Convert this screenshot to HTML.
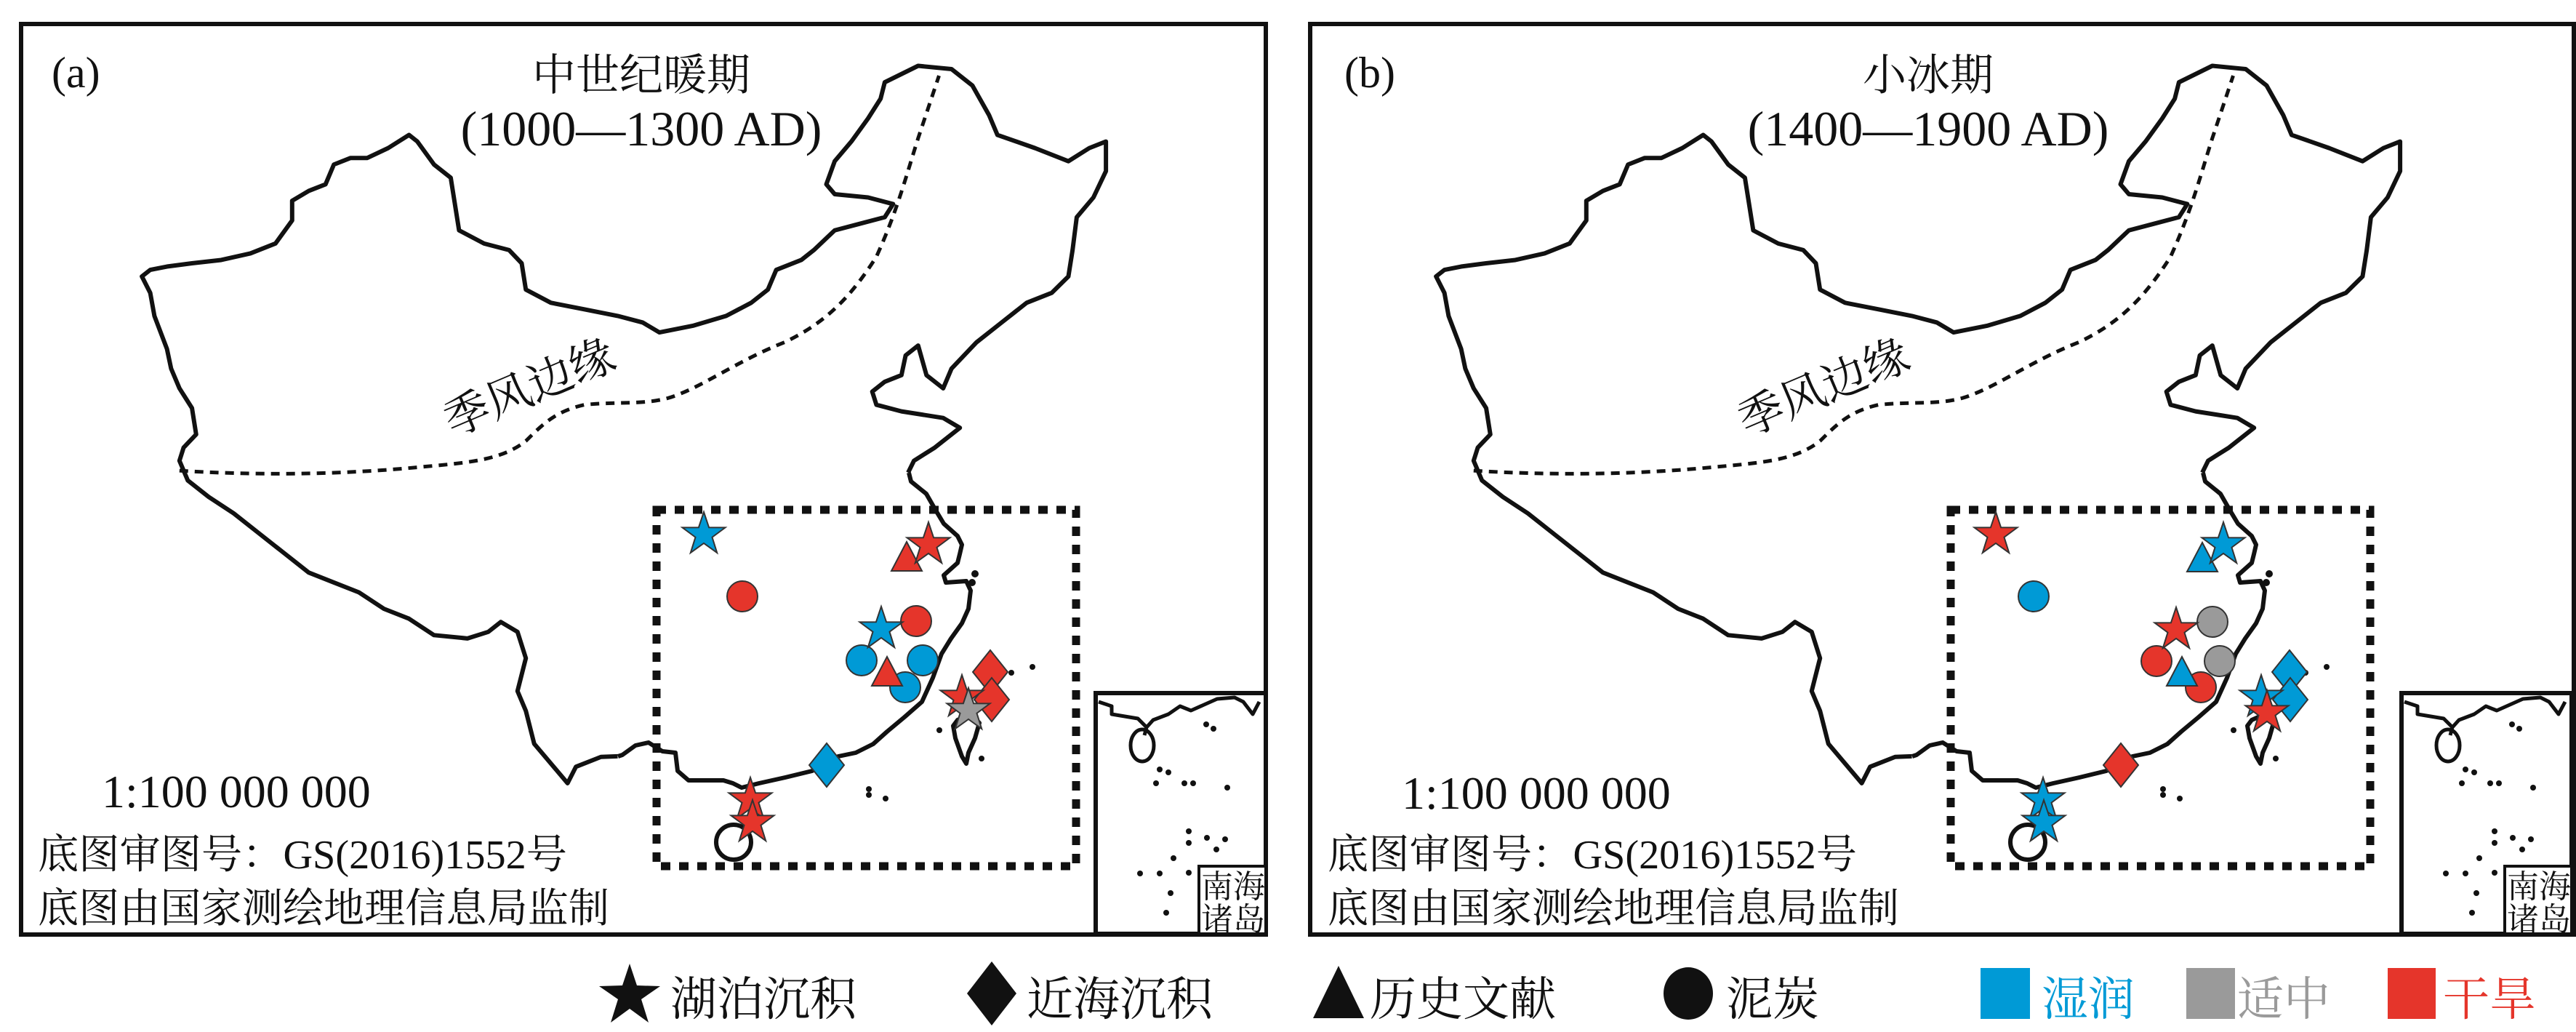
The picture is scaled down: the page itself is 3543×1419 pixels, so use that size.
<!DOCTYPE html>
<html><head><meta charset="utf-8"><style>
html,body{margin:0;padding:0;background:#fff;}
svg{display:block;}
.t{font-family:"Liberation Serif","Noto Serif CJK SC",serif;fill:#111;}
</style></head><body>
<svg width="3543" height="1419" viewBox="0 0 3543 1419" xmlns="http://www.w3.org/2000/svg">
<defs>
<g id="map">
  <path vector-effect="non-scaling-stroke" transform="scale(1.148,0.905)" fill="none" stroke="#111" stroke-width="6" stroke-linejoin="round" d="M740,1149 L720,1150 690,1165 680,1190 660,1160 640,1130 630,1080 620,1050 630,1000 620,960 600,945 585,960 560,970 520,965 490,940 460,925 430,900 400,885 370,870 340,840 310,810 280,780 250,755 225,730 215,700 220,680 235,660 230,620 215,590 205,560 200,530 185,480 180,445 170,420 180,410 200,405 230,400 265,395 300,385 330,370 350,335 350,305 370,290 390,280 400,250 420,240 440,240 465,225 490,205 500,215 520,250 540,270 545,310 550,350 580,370 610,380 625,400 630,440 660,460 700,470 740,480 770,490 790,505 830,495 870,480 900,460 920,440 930,410 960,395 975,380 1000,350 1030,340 1060,330 1070,310 1040,300 1000,295 990,280 1000,245 1020,215 1040,180 1055,150 1060,125 1100,100 1140,105 1165,130 1185,175 1195,205 1240,225 1280,245 1305,225 1325,215 1325,260 1310,300 1290,330 1285,380 1280,420 1260,445 1230,460 1200,490 1170,520 1140,560 1130,590 1110,570 1100,525 1085,540 1080,570 1060,580 1045,595 1050,615 1080,625 1105,630 1130,635 1150,650 1120,680 1095,700 1088,718"/>
  <path fill="none" stroke="#111" stroke-width="6" stroke-linejoin="round" d="M1250,650 L1253,662 1274,679 1286,700 1298,720 1317,737 1323,749 1320,762 1317,774 1298,791 1301,801 1329,799 1335,812 1332,837 1323,857 1308,878 1295,899 1283,932 1268,965 1244,986 1220,1006 1201,1023 1177,1035 1153,1040 1117,1060 1080,1069 1044,1077 1020,1083 1008,1077 995,1073 971,1073 947,1073 932,1060 929,1035 911,1033 892,1021 874,1025 856,1038 850,1040"/>
  <ellipse cx="1009" cy="1158" rx="24" ry="24" fill="none" stroke="#111" stroke-width="6"/>
  <path fill="none" stroke="#111" stroke-width="6" stroke-linejoin="round" d="M1317,990 L1335,982 1347,994 1341,1015 1332,1035 1329,1050 1323,1040 1314,1015 1311,998 Z"/>
  <g fill="#111">
    <circle cx="1341" cy="789" r="5"/><circle cx="1337" cy="801" r="5"/><circle cx="1420" cy="917" r="4"/><circle cx="1391" cy="925" r="4"/><circle cx="1292" cy="1004" r="4"/><circle cx="1350" cy="1043" r="4"/><circle cx="1195" cy="1085" r="4"/><circle cx="1195" cy="1093" r="4"/><circle cx="1218" cy="1098" r="4"/>
  </g>
  <path fill="none" stroke="#111" stroke-width="5" stroke-dasharray="12 9" transform="scale(1.148,0.905)" vector-effect="non-scaling-stroke" d="M215,715 C300,722 400,722 500,710 C560,703 600,700 630,670 C650,645 665,625 700,615 C740,610 770,615 800,605 C840,590 880,550 940,520 C990,490 1020,450 1050,390 C1075,320 1085,270 1100,210 L1125,115"/>
  <rect x="903" y="701" width="577" height="490" fill="none" stroke="#111" stroke-width="11" stroke-dasharray="13 12"/>
</g>
<g id="inset">
  <rect x="1507" y="953" width="234" height="331" fill="#fff" stroke="#111" stroke-width="6"/>
  <path fill="none" stroke="#111" stroke-width="5" stroke-linejoin="round" d="M1511,965 L1529,971 1529,982 1565,988 1577,1000 1574,1011 M1577,1000 L1586,990 1607,982 1623,971 1638,977 1656,969 1674,961 1698,959 1710,965 1723,982 1732,965"/>
  <ellipse cx="1571" cy="1025" rx="16" ry="22" fill="none" stroke="#111" stroke-width="5"/>
  <g fill="#111">
    <circle cx="1659" cy="996" r="4"/><circle cx="1669" cy="1002" r="4"/><circle cx="1595" cy="1058" r="4"/><circle cx="1607" cy="1062" r="4"/><circle cx="1590" cy="1077" r="4"/><circle cx="1629" cy="1077" r="4"/><circle cx="1641" cy="1077" r="4"/><circle cx="1688" cy="1083" r="4"/><circle cx="1635" cy="1143" r="4"/><circle cx="1635" cy="1159" r="4"/><circle cx="1660" cy="1152" r="4"/><circle cx="1685" cy="1154" r="4"/><circle cx="1673" cy="1168" r="4"/><circle cx="1614" cy="1180" r="4"/><circle cx="1568" cy="1201" r="4"/><circle cx="1595" cy="1201" r="4"/><circle cx="1635" cy="1200" r="4"/><circle cx="1610" cy="1228" r="4"/><circle cx="1604" cy="1255" r="4"/>
  </g>
  <rect x="1649" y="1191" width="92" height="93" fill="#fff" stroke="#111" stroke-width="4"/>
  <text class="t" x="1652" y="1234" font-size="44">南海</text>
  <text class="t" x="1652" y="1279" font-size="44">诸岛</text>
</g>
<polygon id="star" points="0,-31 7.1,-9.7 29.5,-9.6 11.5,3.7 18.2,25.1 0,12 -18.2,25.1 -11.5,3.7 -29.5,-9.6 -7.1,-9.7" stroke="#333" stroke-width="2"/>
<polygon id="tri" points="0,-21 21,19 -21,19" stroke="#333" stroke-width="2"/>
<polygon id="dia" points="0,-30 24,0 0,30 -24,0" stroke="#333" stroke-width="2"/>
<circle id="cir" r="21" stroke="#333" stroke-width="2"/>
</defs>

<!-- Panel a -->
<rect x="29" y="33" width="1712" height="1252" fill="none" stroke="#111" stroke-width="6"/>
<use href="#map"/>
<use href="#inset"/>
<text class="t" x="71" y="120" font-size="60">(a)</text>
<text class="t" x="882" y="124" font-size="60" text-anchor="middle">中世纪暖期</text>
<text class="t" x="882" y="200" font-size="68" text-anchor="middle">(1000—1300 AD)</text>
<text class="t" x="729" y="534" font-size="62" text-anchor="middle" transform="rotate(-23 729 534)" dy="20">季风边缘</text>
<text class="t" x="140" y="1110" font-size="64">1:100 000 000</text>
<text class="t" x="52" y="1194" font-size="56" textLength="728" lengthAdjust="spacingAndGlyphs">底图审图号：GS(2016)1552号</text>
<text class="t" x="52" y="1268" font-size="56" textLength="786" lengthAdjust="spacingAndGlyphs">底图由国家测绘地理信息局监制</text>
<g>
  <use href="#cir" x="1021" y="820" fill="#e5352b"/>
  <use href="#cir" x="1260" y="854" fill="#e5352b"/>
  <use href="#cir" x="1185" y="908" fill="#009ad6"/>
  <use href="#cir" x="1269" y="908" fill="#009ad6"/>
  <use href="#cir" x="1245" y="945" fill="#009ad6"/>
  <use href="#tri" x="1220" y="924" fill="#e5352b"/>
  <use href="#star" x="1212" y="865" fill="#009ad6"/>
  <use href="#star" x="968" y="735" fill="#009ad6"/>
  <use href="#tri" x="1247" y="766" fill="#e5352b"/>
  <use href="#star" x="1277" y="749" fill="#e5352b"/>
  <use href="#dia" x="1362" y="924" fill="#e5352b"/>
  <use href="#dia" x="1364" y="962" fill="#e5352b"/>
  <use href="#star" x="1323" y="959" fill="#e5352b"/>
  <use href="#star" x="1332" y="977" fill="#9a9a9a"/>
  <use href="#dia" x="1137" y="1052" fill="#009ad6"/>
  <use href="#star" x="1032" y="1100" fill="#e5352b"/>
  <use href="#star" x="1035" y="1131" fill="#e5352b"/>
</g>

<!-- Panel b -->
<rect x="1802" y="33" width="1738" height="1252" fill="none" stroke="#111" stroke-width="6"/>
<g transform="translate(1780,0)"><use href="#map"/></g>
<g transform="translate(1796,0)"><use href="#inset"/></g>
<text class="t" x="1849" y="120" font-size="60">(b)</text>
<text class="t" x="2652" y="124" font-size="60" text-anchor="middle">小冰期</text>
<text class="t" x="2652" y="200" font-size="68" text-anchor="middle">(1400—1900 AD)</text>
<text class="t" x="2509" y="534" font-size="62" text-anchor="middle" transform="rotate(-23 2509 534)" dy="20">季风边缘</text>
<text class="t" x="1928" y="1112" font-size="64">1:100 000 000</text>
<text class="t" x="1826" y="1194" font-size="56" textLength="728" lengthAdjust="spacingAndGlyphs">底图审图号：GS(2016)1552号</text>
<text class="t" x="1826" y="1268" font-size="56" textLength="786" lengthAdjust="spacingAndGlyphs">底图由国家测绘地理信息局监制</text>
<g>
  <use href="#cir" x="2797" y="820" fill="#009ad6"/>
  <use href="#cir" x="3043" y="855" fill="#9a9a9a"/>
  <use href="#cir" x="2966" y="909" fill="#e5352b"/>
  <use href="#cir" x="3053" y="909" fill="#9a9a9a"/>
  <use href="#cir" x="3027" y="945" fill="#e5352b"/>
  <use href="#tri" x="3001" y="924" fill="#009ad6"/>
  <use href="#star" x="2993" y="866" fill="#e5352b"/>
  <use href="#star" x="2745" y="735" fill="#e5352b"/>
  <use href="#tri" x="3029" y="767" fill="#009ad6"/>
  <use href="#star" x="3058" y="749" fill="#009ad6"/>
  <use href="#dia" x="3149" y="924" fill="#009ad6"/>
  <use href="#dia" x="3150" y="962" fill="#009ad6"/>
  <use href="#star" x="3110" y="959" fill="#009ad6"/>
  <use href="#star" x="3118" y="980" fill="#e5352b"/>
  <use href="#dia" x="2917" y="1052" fill="#e5352b"/>
  <use href="#star" x="2810" y="1100" fill="#009ad6"/>
  <use href="#star" x="2811" y="1131" fill="#009ad6"/>
</g>

<!-- Legend -->
<polygon fill="#111" points="866,1325 876,1355 908,1356 882,1374 892,1406 866,1387 840,1406 850,1374 824,1356 856,1355"/>
<text class="t" x="922" y="1396" font-size="64">湖泊沉积</text>
<polygon fill="#111" points="1364,1322 1398,1366 1364,1410 1330,1366"/>
<text class="t" x="1412" y="1396" font-size="64">近海沉积</text>
<polygon fill="#111" points="1841,1328 1876,1400 1806,1400"/>
<text class="t" x="1884" y="1396" font-size="64">历史文献</text>
<ellipse cx="2322" cy="1366" rx="34" ry="36" fill="#111"/>
<text class="t" x="2374" y="1396" font-size="64">泥炭</text>
<rect x="2724" y="1331" width="68" height="70" fill="#009ad6"/>
<text class="t" x="2808" y="1396" font-size="64" style="fill:#009ad6">湿润</text>
<rect x="3007" y="1331" width="67" height="70" fill="#9a9a9a"/>
<text class="t" x="3077" y="1396" font-size="64" style="fill:#9a9a9a">适中</text>
<rect x="3284" y="1331" width="66" height="70" fill="#e5352b"/>
<text class="t" x="3360" y="1396" font-size="64" style="fill:#e5352b">干旱</text>
</svg>
</body></html>
